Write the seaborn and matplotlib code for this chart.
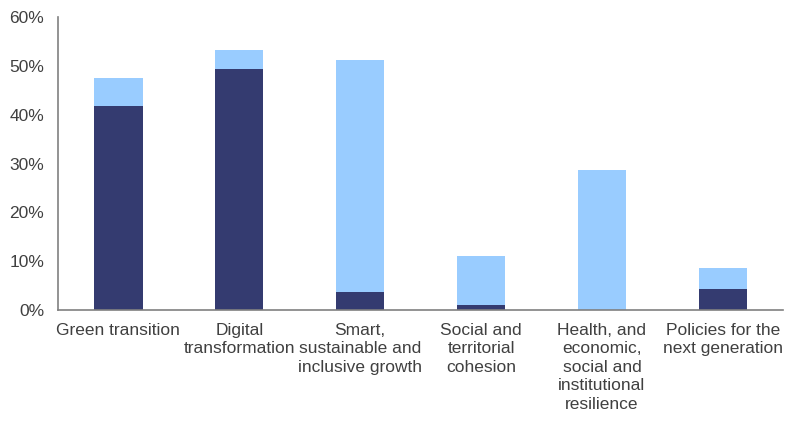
import numpy as np
import pandas as pd
import matplotlib
matplotlib.use("Agg")
import matplotlib.pyplot as plt
import seaborn as sns
from matplotlib.ticker import PercentFormatter

categories = [
    "Green transition",
    "Digital\ntransformation",
    "Smart,\nsustainable and\ninclusive growth",
    "Social and\nterritorial\ncohesion",
    "Health, and\neconomic,\nsocial and\ninstitutional\nresilience",
    "Policies for the\nnext generation",
]
# dark segment (bottom) and light segment (on top), in %
dark_share = [41.7, 49.4, 3.8, 1.0, 0.0, 4.3]
light_share = [5.8, 3.8, 47.5, 10.1, 28.7, 4.3]

DARK = "#343B70"
LIGHT = "#99CCFF"
TEXT = "#404040"

sns.set_style("white")
plt.rcParams["font.family"] = ["Liberation Sans", "DejaVu Sans"]

df = pd.DataFrame({
    "category": categories,
    "dark": dark_share,
    "total": np.array(dark_share) + np.array(light_share),
})

fig = plt.figure(figsize=(8, 4.26), dpi=100)
ax = fig.add_axes([0.0725, 0.272, 0.9065, 0.688])

# light part drawn as full stack height, dark part overlaid from zero
sns.barplot(data=df, x="category", y="total", color=LIGHT, width=0.4,
            saturation=1, linewidth=0, ax=ax)
sns.barplot(data=df, x="category", y="dark", color=DARK, width=0.4,
            saturation=1, linewidth=0, ax=ax)

ax.set_ylim(0, 60)
ax.set_xlim(-0.5, len(categories) - 0.5)
ax.set_yticks(np.arange(0, 61, 10))
ax.yaxis.set_major_formatter(PercentFormatter(decimals=0))
ax.set_xlabel("")
ax.set_ylabel("")

for side in ["top", "right"]:
    ax.spines[side].set_visible(False)
for side in ["left", "bottom"]:
    ax.spines[side].set_color("#808080")
    ax.spines[side].set_linewidth(1.2)

ax.tick_params(axis="both", length=0, colors=TEXT)
ax.tick_params(axis="y", pad=10, labelsize=12.5)
ax.tick_params(axis="x", pad=9, labelsize=12.5)
for lbl in ax.get_xticklabels():
    lbl.set_linespacing(1.3)

fig.savefig("out.png", dpi=100)
plt.close(fig)
